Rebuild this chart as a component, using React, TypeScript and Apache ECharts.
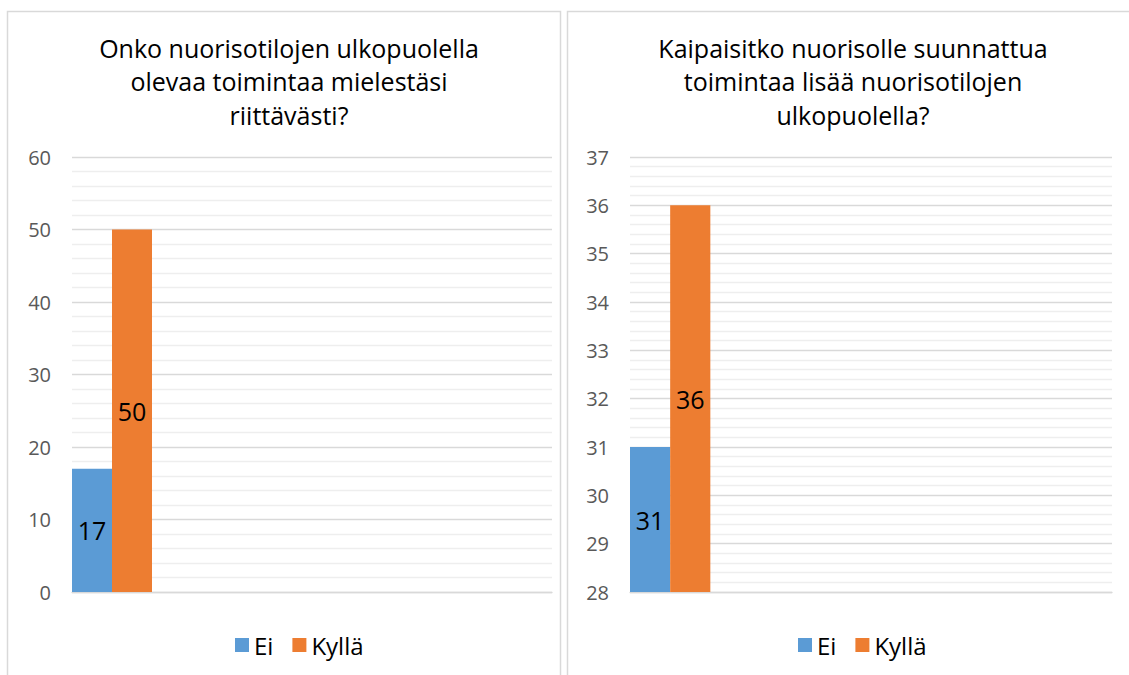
import React, { useEffect, useRef } from "react";
import * as echarts from "echarts";

const categories = ["c1", "c2", "c3", "c4", "c5", "c6"];
const seriesNames = ["Ei", "Kyllä"];
const leftEi = [17, null, null, null, null, null];
const leftKylla = [50, null, null, null, null, null];
const rightEi = [31, null, null, null, null, null];
const rightKylla = [36, null, null, null, null, null];
const leftTitle = "Onko nuorisotilojen ulkopuolella\nolevaa toimintaa mielestäsi\nriittävästi?";
const rightTitle = "Kaipaisitko nuorisolle suunnattua\ntoimintaa lisää nuorisotilojen\nulkopuolella?";

const FONT = "'Open Sans', sans-serif";
const BLUE = "#5B9BD5";
const ORANGE = "#ED7D31";

export default function App() {
  const ref = useRef<HTMLDivElement>(null);
  useEffect(() => {
    const chart = echarts.init(ref.current!, null, { renderer: "svg" });
    const yAxisCommon = {
      type: "value",
      axisLine: { show: false },
      axisTick: { show: false },
      axisLabel: { color: "#595959", fontSize: 20, fontFamily: FONT, margin: 21 },
      splitLine: { lineStyle: { color: "#d9d9d9", width: 1.3 } },
      minorTick: { show: false, splitNumber: 5 },
      minorSplitLine: { show: true, lineStyle: { color: "#eeeeee", width: 1.3 } },
    };
    const xAxisCommon = {
      type: "category",
      data: categories,
      axisLabel: { show: false },
      axisTick: { show: false },
      axisLine: { lineStyle: { color: "#d9d9d9", width: 1.3 } },
    };
    const labelCfg = {
      show: true,
      position: "inside",
      color: "#000",
      fontSize: 25,
      fontFamily: FONT,
    };
    const mkSeries = (name: string, data: any[], idx: number, color: string) => ({
      type: "bar",
      name,
      data,
      xAxisIndex: idx,
      yAxisIndex: idx,
      barGap: "0%",
      barCategoryGap: "0%",
      itemStyle: { color },
      label: labelCfg,
    });
    const legendCommon = {
      data: seriesNames,
      icon: "rect",
      itemWidth: 14,
      itemHeight: 14,
      itemGap: 19,
      top: 628,
      textStyle: { fontSize: 24, color: "#000", fontFamily: FONT },
      selectedMode: false,
    };
    chart.setOption({
      animation: false,
      backgroundColor: "#fff",
      grid: [
        { left: 72, right: 577, top: 157, bottom: 83 },
        { left: 630, right: 17, top: 157, bottom: 83 },
      ],
      xAxis: [
        { ...xAxisCommon, gridIndex: 0 },
        { ...xAxisCommon, gridIndex: 1 },
      ],
      yAxis: [
        { ...yAxisCommon, gridIndex: 0, min: 0, max: 60, interval: 10 },
        { ...yAxisCommon, gridIndex: 1, min: 28, max: 37, interval: 1 },
      ],
      legend: [
        { ...legendCommon, left: 230 },
        { ...legendCommon, left: 793 },
      ],
      series: [
        mkSeries(seriesNames[0], leftEi, 0, BLUE),
        mkSeries(seriesNames[1], leftKylla, 0, ORANGE),
        mkSeries(seriesNames[0], rightEi, 1, BLUE),
        mkSeries(seriesNames[1], rightKylla, 1, ORANGE),
      ],
      graphic: [
        {
          type: "rect",
          shape: { x: 7.5, y: 11.5, width: 553, height: 700 },
          style: { fill: "none", stroke: "#d9d9d9", lineWidth: 1.5 },
          silent: true,
        },
        {
          type: "rect",
          shape: { x: 567.5, y: 11.5, width: 600, height: 700 },
          style: { fill: "none", stroke: "#d9d9d9", lineWidth: 1.5 },
          silent: true,
        },
        {
          type: "text",
          x: 289,
          y: 31,
          style: {
            text: leftTitle,
            align: "center",
            verticalAlign: "top",
            fontSize: 25,
            lineHeight: 33.5,
            fontFamily: FONT,
            fill: "#000",
          },
        },
        {
          type: "text",
          x: 853,
          y: 31,
          style: {
            text: rightTitle,
            align: "center",
            verticalAlign: "top",
            fontSize: 25,
            lineHeight: 33.5,
            fontFamily: FONT,
            fill: "#000",
          },
        },
      ],
    });
    return () => chart.dispose();
  }, []);
  return (
    <div
      ref={ref}
      style={{ position: "fixed", left: 0, top: 0, width: 1129, height: 675 }}
    />
  );
}
